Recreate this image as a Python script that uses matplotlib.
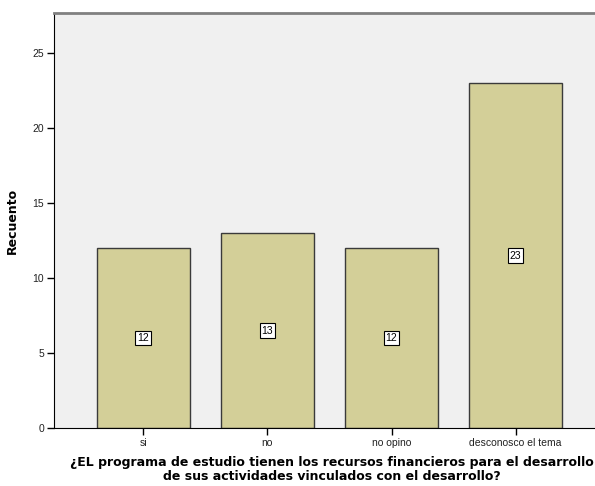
import matplotlib.pyplot as plt

# Data
categories = ["si", "no", "no opino", "desconosco el tema"]
counts = [12, 13, 12, 23]
y_ticks = [0, 5, 10, 15, 20, 25]

bar_color = "#d3cf98"
bg_color = "#f0f0f0"

fig = plt.figure(figsize=(5.95, 4.86), dpi=100)
ax = fig.add_axes([54 / 595, 58 / 486, 1 - 54 / 595, (428 - 13) / 486])
ax.set_facecolor(bg_color)

x = list(range(len(categories)))
ax.bar(x, counts, width=0.75, color=bar_color, edgecolor="#3a3a3a", linewidth=1.0, zorder=2)

# value labels in boxes at the middle of each bar
for xi, v in zip(x, counts):
    ax.text(xi, v / 2, str(v), ha="center", va="center", fontsize=7.5,
            family="Liberation Sans",
            bbox=dict(boxstyle="square,pad=0.2", facecolor="white", edgecolor="black", linewidth=0.8),
            zorder=3)

ax.set_xlim(-0.72, 3.64)
ax.set_ylim(0, 27.67)
ax.set_yticks(y_ticks)
ax.set_xticks(x)
ax.set_xticklabels(categories)

for lab in ax.get_xticklabels() + ax.get_yticklabels():
    lab.set_family("Liberation Sans")
    lab.set_fontsize(7.5)
    lab.set_color("#222222")

ax.tick_params(axis="both", direction="out", length=5, width=1, pad=2)

ax.spines["left"].set_color("black")
ax.spines["bottom"].set_color("black")
ax.spines["top"].set_color("#808080")
ax.spines["top"].set_linewidth(2)
ax.spines["right"].set_visible(False)

ax.set_ylabel("Recuento", fontsize=9, fontweight="bold", family="DejaVu Sans", labelpad=10)
ax.set_xlabel("¿EL programa de estudio tienen los recursos financieros para el desarrollo\n"
              "de sus actividades vinculados con el desarrollo?",
              fontsize=9, fontweight="bold", family="DejaVu Sans", linespacing=1.1)
ax.xaxis.set_label_coords((332 - 54) / (595 - 54), -0.068, transform=ax.transAxes)
ax.xaxis.label.set_va("top")

fig.savefig("out.png", dpi=100, facecolor="white")
